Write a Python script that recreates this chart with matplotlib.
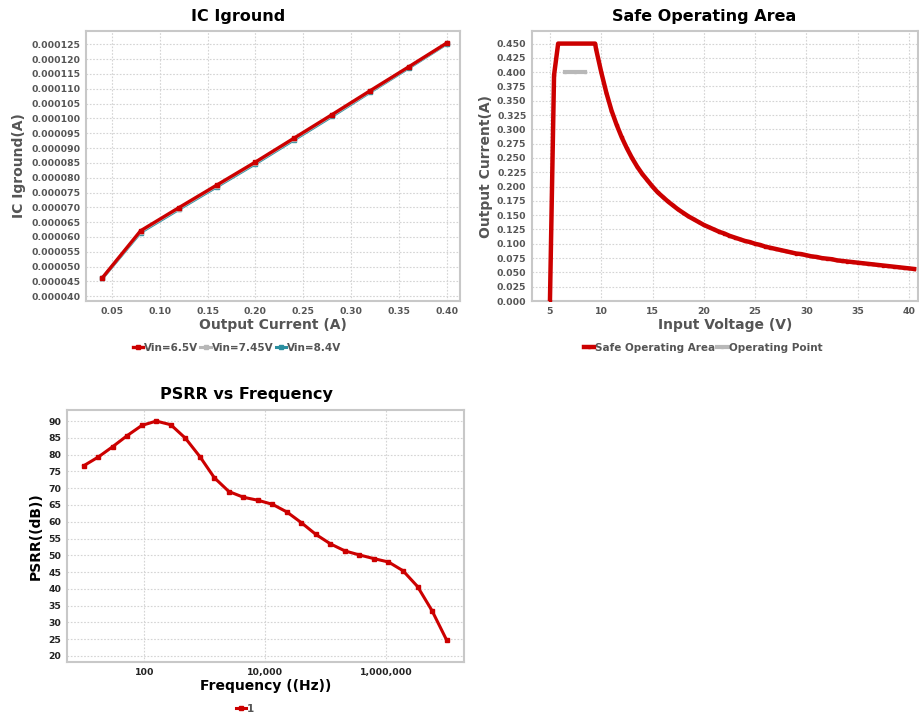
import matplotlib
matplotlib.use("Agg")
import matplotlib.pyplot as plt
from matplotlib.ticker import FixedLocator, FormatStrFormatter, FuncFormatter

plt.rcParams['font.family'] = ['DejaVu Sans']
plt.rcParams['font.weight'] = 'bold'

# ---------------- data ----------------
iout = [0.04, 0.08, 0.12, 0.16, 0.20, 0.24, 0.28, 0.32, 0.36, 0.40]
ig_65 = [0.0000462, 0.0000621, 0.0000699, 0.0000776, 0.0000853, 0.0000933,
         0.0001013, 0.0001094, 0.0001174, 0.0001255]
ig_745 = [0.0000461, 0.0000618, 0.0000696, 0.0000773, 0.0000850, 0.0000930,
          0.0001010, 0.0001091, 0.0001172, 0.0001253]
ig_84 = [0.0000460, 0.0000615, 0.0000693, 0.0000770, 0.0000847, 0.0000927,
         0.0001007, 0.0001089, 0.0001170, 0.0001252]
ig_labels = ["Vin=6.5V", "Vin=7.45V", "Vin=8.4V"]

soa_v = [5.0, 5.4, 5.8, 9.4,
         9.5, 10.0, 10.5, 11.0, 11.5, 12.0, 12.5, 13.0, 13.5, 14.0, 14.5,
         15.0, 15.5, 16.0, 16.5, 17.0, 17.5, 18.0, 18.5, 19.0, 19.5,
         20.0, 20.5, 21.0, 21.5, 22.0, 22.5, 23.0, 23.5, 24.0, 24.5,
         25.0, 25.5, 26.0, 26.5, 27.0, 27.5, 28.0, 28.5, 29.0, 29.5,
         30.0, 30.5, 31.0, 31.5, 32.0, 32.5, 33.0, 33.5, 34.0, 34.5,
         35.0, 35.5, 36.0, 36.5, 37.0, 37.5, 38.0, 38.5, 39.0, 39.5,
         40.0, 40.5]
soa_i = [0.0, 0.395, 0.45, 0.45,
         0.440, 0.400, 0.364, 0.333, 0.308, 0.286, 0.267, 0.250, 0.235, 0.222, 0.211,
         0.200, 0.190, 0.182, 0.174, 0.167, 0.160, 0.154, 0.148, 0.143, 0.138,
         0.133, 0.129, 0.125, 0.121, 0.118, 0.114, 0.111, 0.108, 0.105, 0.103,
         0.100, 0.098, 0.095, 0.093, 0.091, 0.089, 0.087, 0.085, 0.083, 0.082,
         0.080, 0.078, 0.077, 0.075, 0.074, 0.073, 0.071, 0.070, 0.069, 0.068,
         0.067, 0.066, 0.065, 0.064, 0.063, 0.062, 0.061, 0.060, 0.059, 0.058,
         0.057, 0.056]
op_v = [6.5, 7.45, 8.4]
op_i = [0.40, 0.40, 0.40]

freq = [10, 17.4, 30.2, 52.5, 91.2, 158, 275, 479, 832, 1445, 2512, 4365, 7586,
        13183, 22909, 39811, 69183, 120226, 208930, 363078, 630957, 1096478,
        1905461, 3311311, 5754399, 10000000]
psrr = [76.7, 79.3, 82.4, 85.7, 88.7, 90.0, 88.9, 84.9, 79.4, 73.1, 69.0, 67.3,
        66.4, 65.2, 62.9, 59.7, 56.2, 53.4, 51.3, 50.1, 49.0, 48.0, 45.4, 40.7,
        33.5, 24.8]

RED = "#cc0000"
GRAY = "#b8b8b8"
TEAL = "#2a8fa0"
LBL = "#555555"

W, H = 920, 714
fig = plt.figure(figsize=(W / 100, H / 100), dpi=100)


def box(l, t, r, b):
    return [l / W, 1 - b / H, (r - l) / W, (b - t) / H]


def style(ax, tickcol):
    for s in ax.spines.values():
        s.set_color("#c8c8c8")
        s.set_linewidth(1.5)
    ax.grid(True, color="#d4d4d4", linestyle=(0, (1.5, 1.5)), linewidth=0.8)
    ax.set_axisbelow(True)
    ax.tick_params(length=0, pad=4, labelsize=6.7, colors=tickcol)
    for lab in ax.get_xticklabels() + ax.get_yticklabels():
        lab.set_fontweight('bold')


# ---------------- IC Iground ----------------
ax1 = fig.add_axes(box(86, 31, 460, 301))
ax1.plot(iout, ig_84, color=TEAL, lw=2.2, marker='s', ms=2.3, label=ig_labels[2], zorder=3)
ax1.plot(iout, ig_745, color=GRAY, lw=2.2, marker='s', ms=2.3, label=ig_labels[1], zorder=4)
ax1.plot(iout, ig_65, color=RED, lw=2.4, marker='s', ms=2.6, label=ig_labels[0], zorder=5)
ax1.set_xlim(0.023, 0.4136)
ax1.set_ylim(0.0000384, 0.0001295)
ax1.xaxis.set_major_locator(FixedLocator([0.05, 0.10, 0.15, 0.20, 0.25, 0.30, 0.35, 0.40]))
ax1.xaxis.set_major_formatter(FormatStrFormatter('%.2f'))
ax1.yaxis.set_major_locator(FixedLocator([0.000040 + 0.000005 * k for k in range(18)]))
ax1.yaxis.set_major_formatter(FormatStrFormatter('%.6f'))
style(ax1, LBL)
ax1.set_xlabel("Output Current (A)", fontsize=10, fontweight='bold', color=LBL, labelpad=2)
ax1.set_ylabel("IC Iground(A)", fontsize=10, fontweight='bold', color=LBL, labelpad=4)
h, l = ax1.get_legend_handles_labels()
order = [2, 1, 0]
fig.legend([h[i] for i in order], [l[i] for i in order], loc='center',
           bbox_to_anchor=(237 / W, 1 - 348 / H), ncol=3, frameon=False,
           handlelength=1.0, handletextpad=0.1, columnspacing=0.2,
           labelcolor=LBL, prop={'weight': 'bold', 'size': 7.5})
fig.text(238 / W, 1 - 16 / H, "IC Iground", ha='center', va='center',
         fontsize=11.5, fontweight='bold', color='black')

# ---------------- Safe Operating Area ----------------
ax2 = fig.add_axes(box(532, 31, 918, 301))
ax2.plot(soa_v, soa_i, color=RED, lw=3.2, marker='s', ms=2.0, label="Safe Operating Area", zorder=4)
ax2.plot(op_v, op_i, color=GRAY, lw=3.0, marker='s', ms=2.0, label="Operating Point", zorder=3)
ax2.set_xlim(3.25, 40.88)
ax2.set_ylim(0.0, 0.472)
ax2.xaxis.set_major_locator(FixedLocator([5, 10, 15, 20, 25, 30, 35, 40]))
ax2.yaxis.set_major_locator(FixedLocator([0.025 * k for k in range(19)]))
ax2.yaxis.set_major_formatter(FormatStrFormatter('%.3f'))
style(ax2, LBL)
ax2.set_xlabel("Input Voltage (V)", fontsize=10, fontweight='bold', color=LBL, labelpad=2)
ax2.set_ylabel("Output Current(A)", fontsize=10, fontweight='bold', color=LBL, labelpad=3)
fig.legend(*ax2.get_legend_handles_labels(), loc='center',
           bbox_to_anchor=(703 / W, 1 - 348 / H), ncol=2, frameon=False,
           handlelength=1.0, handletextpad=0.1, columnspacing=0.2,
           labelcolor=LBL, prop={'weight': 'bold', 'size': 7.5})
fig.text(704 / W, 1 - 16 / H, "Safe Operating Area", ha='center', va='center',
         fontsize=11.5, fontweight='bold', color='black')

# ---------------- PSRR vs Frequency ----------------
ax3 = fig.add_axes(box(67, 410, 464, 662))
ax3.plot(freq, psrr, color=RED, lw=2.2, marker='s', ms=2.3, label="1")
ax3.set_xscale('log')
ax3.set_xlim(10 ** 0.722, 10 ** 7.289)
ax3.set_ylim(18.2, 93.3)
ax3.xaxis.set_major_locator(FixedLocator([100, 10000, 1000000]))
ax3.xaxis.set_minor_locator(FixedLocator([]))
ax3.xaxis.set_major_formatter(FuncFormatter(lambda v, p: f"{int(round(v)):,}"))
ax3.yaxis.set_major_locator(FixedLocator([20 + 5 * k for k in range(15)]))
style(ax3, "#222222")
ax3.set_xlabel("Frequency ((Hz))", fontsize=10, fontweight='bold', color='black', labelpad=2)
ax3.set_ylabel("PSRR((dB))", fontsize=10, fontweight='bold', color='black', labelpad=4)
fig.legend(*ax3.get_legend_handles_labels(), loc='center',
           bbox_to_anchor=(245 / W, 1 - 709 / H), ncol=1, frameon=False,
           handlelength=1.0, handletextpad=0.1,
           labelcolor=LBL, prop={'weight': 'bold', 'size': 7.5})
fig.text(246 / W, 1 - 395 / H, "PSRR vs Frequency", ha='center', va='center',
         fontsize=11.5, fontweight='bold', color='black')

fig.savefig("out.png", dpi=100)
